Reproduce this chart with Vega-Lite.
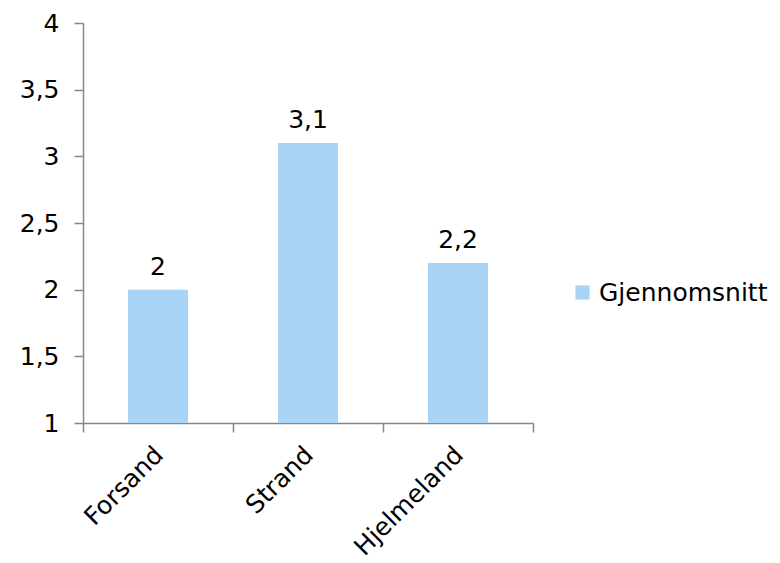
{
  "$schema": "https://vega.github.io/schema/vega-lite/v6.json",
  "width": 450,
  "height": 400,
  "autosize": "none",
  "padding": {"left": 83, "top": 23, "right": 247, "bottom": 140},
  "background": "white",
  "config": {
    "locale": {"number": {"decimal": ",", "thousands": " ", "grouping": [3], "currency": ["", " kr"]}},
    "view": {"stroke": null},
    "font": "DejaVu Sans",
    "axis": {"labelFont": "DejaVu Sans", "labelColor": "black", "labelFontSize": 25, "domainColor": "#868686", "tickColor": "#868686", "domainWidth": 1.5, "tickWidth": 1.5, "grid": false, "title": null}
  },
  "data": {"values": [
    {"kommune": "Forsand", "verdi": 2, "serie": "Gjennomsnitt"},
    {"kommune": "Strand", "verdi": 3.1, "serie": "Gjennomsnitt"},
    {"kommune": "Hjelmeland", "verdi": 2.2, "serie": "Gjennomsnitt"}
  ]},
  "encoding": {
    "x": {"field": "kommune", "type": "nominal", "sort": null,
      "scale": {"paddingInner": 0, "paddingOuter": 0},
      "axis": {"labelAngle": -45, "labelAlign": "right", "labelBaseline": "top", "tickBand": "extent", "tickSize": 9, "labelPadding": 10, "labelOffset": -8, "labelFontSize": 25, "labelLimit": 300}},
    "y": {"field": "verdi", "type": "quantitative",
      "scale": {"domain": [1, 4], "zero": false},
      "axis": {"values": [1, 1.5, 2, 2.5, 3, 3.5, 4], "tickSize": 9, "labelPadding": 15, "format": "~g", "labelFontSize": 25}}
  },
  "layer": [
    {
      "mark": {"type": "bar", "width": {"band": 0.4}},
      "encoding": {
        "y2": {"datum": 1},
        "color": {"field": "serie", "type": "nominal",
          "scale": {"range": ["#A9D4F5"]},
          "legend": {"title": null, "orient": "none", "legendX": 487, "legendY": 257, "symbolType": "square", "symbolSize": 200, "labelFontSize": 25, "labelFont": "DejaVu Sans", "labelColor": "black", "labelLimit": 300, "labelOffset": 4, "symbolStrokeWidth": 0}}
      }
    },
    {
      "mark": {"type": "text", "baseline": "bottom", "dy": -10, "fontSize": 25, "color": "black"},
      "encoding": {
        "text": {"field": "verdi", "type": "quantitative", "format": "~g"}
      }
    }
  ]
}
